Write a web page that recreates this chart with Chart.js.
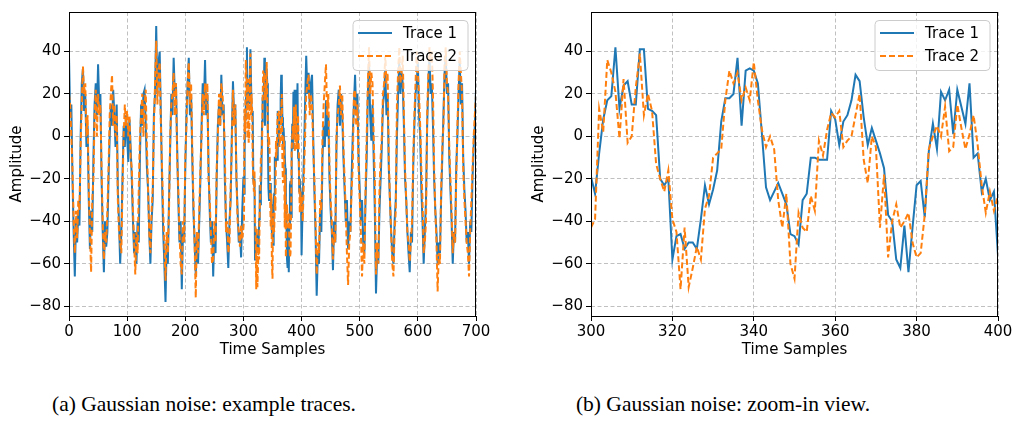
<!DOCTYPE html>
<html>
<head>
<meta charset="utf-8">
<script src="https://cdn.jsdelivr.net/npm/chart.js@4.4.0/dist/chart.umd.min.js"></script>
<style>
  body { margin: 0; background: #fff; width: 1016px; height: 421px; position: relative; overflow: hidden; }
  canvas { position: absolute; top: 0; }
  #left { left: 0; }
  #right { left: 522px; }
  .caption { position: absolute; top: 392px; font-family: "Liberation Serif", serif; font-size: 21.5px; color: #000; white-space: nowrap; transform: translateX(-50%); }
</style>
</head>
<body>
<canvas id="left" width="500" height="365"></canvas>
<canvas id="right" width="494" height="365"></canvas>
<div class="caption" style="left:204px">(a) Gaussian noise: example traces.</div>
<div class="caption" style="left:723px">(b) Gaussian noise: zoom-in view.</div>
<script>
// samples 0..298, every 2nd sample
const coarseStep = 2;
const earlyStart = 0;
const trace1Early = [
  38, 10, 15, -20, -45, -66, -40, -50, -35, -42,
  0, 25, 32, 12, 20, -5, 5, -30, -53, -35,
  -45, -10, 15, 25, 10, 34, 15, 20, -20, -45,
  -64, -40, -52, -45, -20, 0, 15, 5, 22, 10,
  -5, 15, -25, -40, -60, -45, -20, 5, -5, 10,
  0, -12, 8, -5, -20, -40, -55, -45, -60, -40,
  -50, -10, 15, 5, 20, 22, 5, -15, -25, -45,
  -60, -40, -30, 10, 20, 52, 20, 35, 40, 10,
  -20, -45, -60, -78, -50, -60, -30, -5, 20, 10,
  37, 20, 25, -5, -30, -50, -40, -72, -45, -50,
  -15, 10, 25, 37, 10, 20, -10, -35, -50, -65,
  -45, -60, -40, -20, 5, 25, 15, 36, 10, 20,
  -15, -35, -50, -40, -66, -45, -55, -20, 5, 15,
  5, 29, 10, 15, -20, -40, -50, -62, -40, -30,
  0, 26, 10, 15, -20, -35, -50, -45, -57, -35
];
const trace2Early = [
  20, 15, 0, -15, -40, -55, -35, -48, -30, -35,
  -5, 15, 33, 20, 25, 0, 10, -25, -45, -64,
  -30, -20, 10, 22, 0, 20, 10, 15, -15, -40,
  -58, -45, -50, -35, -15, 10, 20, 29, 5, 15,
  0, 10, -30, -45, -50, -55, -25, 0, 15, 5,
  12, 0, 10, -10, -15, -35, -50, -65, -45, -55,
  -25, 0, 10, 20, 0, 15, 22, -5, -25, -45,
  -55, -35, -25, 5, 25, 45, 15, 30, 35, 5,
  -15, -35, -50, -68, -45, -55, -35, 0, 15, 20,
  30, 10, 25, -10, -25, -45, -60, -65, -40, -50,
  -10, 5, 25, 35, 15, 25, -5, -30, -50, -76,
  -45, -55, -35, -15, 0, 20, 10, 25, 15, 25,
  -20, -30, -45, -60, -58, -40, -50, -15, 0, 20,
  5, 25, 20, 10, -5, -45, -40, -55, -50, -25,
  -5, 22, 5, 15, -20, -40, -45, -52, -42, -48
];

// samples 300..400, every sample
const zoomStart = 300;
const trace1Zoom = [
  -19, -27, -8, 8, 17, 19, 42, 13, 24, 26,
  15, 15, 41, 41, 13, 12, 10, -20, -23, -20,
  -58, -47, -46, -53, -50, -50, -53, -39, -23, -32,
  -25, -16, 7, 18, 18, 20, 37, 5, 31, 32,
  31, 25, 1, -24, -30, -26, -22, -27, -32, -46,
  -47, -51, -30, -27, -10, -10, -11, -11, -11, 12,
  8, -4, 7, 10, 17, 29, 26, 9, -4, 4,
  -2, -8, -15, -37, -40, -58, -62, -42, -64, -43,
  -23, -21, -38, -7, 6, -6, 21, 17, 22, 1,
  22, 14, 6, 25, -10, -8, -26, -20, -30, -26,
  -56
];
const trace2Zoom = [
  -43, -39, 13, 2, 36, 30, 21, -1, 27, -3,
  0, 23, 39, 10, 20, 12, -13, -20, -26, -16,
  -39, -45, -72, -43, -71, -62, -52, -58, -34, -28,
  -10, -8, -6, 17, 31, 25, 30, 17, 23, 17,
  35, 17, 3, -5, 0, -6, -30, -43, -27, -60,
  -67, -36, -43, -45, -28, -35, -2, -9, 3, 11,
  9, 12, -5, -2, 0, 10, 20, -11, -22, 0,
  -5, -43, -18, -57, -40, -32, -43, -40, -36, -50,
  -57, -55, -37, -6, 0, 5, 0, 14, -7, -5,
  15, 4, -6, 1, 10, -4, -23, -36, -26, -35,
  -28
];

// samples 402..700, every 2nd sample
const lateStart = 402;
const trace1Late = [
  -30, -10, 15, 38, 20, 30, 15, 25, 29, 0,
  -25, -45, -75, -55, -60, -35, -45, -10, 5, -5,
  17, 0, 10, -20, -35, -45, -63, -40, -50, -5,
  15, 22, 5, 20, 10, -10, -25, -40, -30, -53,
  -40, -45, -20, 0, 15, 29, 10, 20, -10, -25,
  -40, -30, -50, -55, -30, -10, 20, 35, 10, -2,
  15, -10, -35, -74, -55, -60, -35, -20, -5, 15,
  20, 31, 10, 20, -15, -30, -45, -55, -60, -40,
  -30, 0, 20, 35, 20, 30, 25, 5, -20, -30,
  -45, -55, -64, -45, -50, -15, 5, 20, 25, 35,
  10, 0, -25, -40, -60, -45, -30, 5, 25, 38,
  20, 25, 5, -20, -35, -45, -60, -50, -55, -30,
  -10, 10, 30, 38, 20, 25, -10, -25, -40, -60,
  -45, -50, -15, 0, 20, 36, 15, 25, -10, -25,
  -35, -50, -45, -60, -40, -45, -20, -5, 5, 22
];
const trace2Late = [
  -40, -20, 0, 20, 25, 29, 10, 20, 15, -5,
  -20, -40, -65, -50, -55, -30, -35, 0, 15, 25,
  34, 10, 20, -15, -30, -40, -58, -45, -50, 0,
  10, 15, 24, 10, 20, -5, -20, -35, -55, -70,
  -50, -45, -25, -15, 20, 22, 5, 15, -15, -30,
  -45, -66, -50, -60, -25, 0, 25, 42, 20, 30,
  25, 0, -20, -65, -50, -60, -25, -10, 0, 20,
  25, 38, 25, 30, -10, -30, -45, -60, -66, -45,
  -35, 15, 30, 42, 25, 30, 38, 10, -15, -30,
  -45, -50, -59, -50, -40, -10, 10, 25, 40, 30,
  20, 5, -15, -30, -55, -50, -40, 10, 30, 42,
  35, 40, 20, -15, -35, -50, -73, -55, -60, -25,
  -5, 5, 35, 42, 25, 20, -5, -20, -35, -55,
  -45, -50, -20, 5, 25, 40, 30, 20, -15, -30,
  -40, -50, -55, -66, -45, -30, -15, 0, 10, 20
];

const yTicks = [-80, -60, -40, -20, 0, 20, 40];
const leftXTicks = [0, 100, 200, 300, 400, 500, 600, 700];
const rightXTicks = [300, 320, 340, 360, 380, 400];
const seriesNames = ['Trace 1', 'Trace 2'];
const blue = '#1f77b4', orange = '#ff7f0e';

function fullSeries(early, zoom, late) {
  const pts = [];
  early.forEach((v, i) => pts.push({x: earlyStart + i * coarseStep, y: v}));
  zoom.forEach((v, i) => pts.push({x: zoomStart + i, y: v}));
  late.forEach((v, i) => pts.push({x: lateStart + i * coarseStep, y: v}));
  return pts;
}
function zoomSeries(zoom) {
  return zoom.map((v, i) => ({x: zoomStart + i, y: v}));
}

const fontSize = 15;
Chart.defaults.font.family = 'DejaVu Sans';
Chart.defaults.font.size = fontSize;
Chart.defaults.color = '#000';

const frameAndLegend = {
  id: 'frameAndLegend',
  afterDatasetsDraw(chart) {
    const {ctx, chartArea: a} = chart;
    ctx.save();
    // axes frame
    ctx.strokeStyle = '#000';
    ctx.lineWidth = 1;
    ctx.strokeRect(Math.round(a.left) + 0.5, Math.round(a.top) + 0.5,
      Math.round(a.right - a.left) - 1, Math.round(a.bottom - a.top));
    // legend box
    const w = 115, h = 50;
    const x = a.right - 8 - w, y = a.top + 8.5;
    ctx.beginPath();
    ctx.roundRect(x, y, w, h, 4);
    ctx.fillStyle = 'rgba(255,255,255,0.8)';
    ctx.fill();
    ctx.strokeStyle = '#cccccc';
    ctx.stroke();
    const rows = [[blue, []], [orange, [6, 3]]];
    rows.forEach((r, i) => {
      const ly = y + 12.5 + i * 23;
      ctx.beginPath();
      ctx.setLineDash(r[1]);
      ctx.strokeStyle = r[0];
      ctx.lineWidth = 2;
      ctx.moveTo(x + 5, ly);
      ctx.lineTo(x + 39, ly);
      ctx.stroke();
      ctx.setLineDash([]);
      ctx.fillStyle = '#000';
      ctx.font = fontSize + 'px "DejaVu Sans"';
      ctx.textBaseline = 'middle';
      ctx.textAlign = 'left';
      ctx.fillText(seriesNames[i], x + 50, ly + 1);
    });
    ctx.restore();
  }
};

function minusFmt(v) { return String(v).replace('-', '\u2212'); }

function makeChart(id, d1, d2, xMin, xMax, xTicks, rightPad) {
  const gridLines = {color: '#b0b0b0', lineWidth: 0.8, tickLength: 5, tickColor: '#000', tickWidth: 1};
  return new Chart(document.getElementById(id), {
    type: 'line',
    data: {
      datasets: [
        {label: seriesNames[0], data: d1, borderColor: blue, borderWidth: 2, pointRadius: 0, tension: 0, order: 1, clip: 0},
        {label: seriesNames[1], data: d2, borderColor: orange, borderWidth: 2, borderDash: [6, 3], pointRadius: 0, tension: 0, order: 0, clip: 0}
      ]
    },
    options: {
      responsive: false,
      animation: false,
      events: [],
      layout: {autoPadding: false, padding: {top: 5.5, right: rightPad, left: 0, bottom: 0}},
      plugins: {legend: {display: false}, tooltip: {enabled: false}},
      scales: {
        x: {
          type: 'linear', min: xMin, max: xMax,
          afterBuildTicks: s => { s.ticks = xTicks.map(v => ({value: v})); },
          afterFit: s => { s.height = 49; },
          ticks: {padding: 2, maxRotation: 0, callback: minusFmt},
          grid: gridLines,
          border: {display: false, dash: [4, 2.5]},
          title: {display: true, text: 'Time Samples', padding: {top: 0, bottom: 6}}
        },
        y: {
          type: 'linear', min: -84.6, max: 58.6,
          afterBuildTicks: s => { s.ticks = yTicks.map(v => ({value: v})); },
          afterFit: s => { s.width = 69; },
          ticks: {padding: 3, callback: minusFmt},
          grid: gridLines,
          border: {display: false, dash: [4, 2.5]},
          title: {display: true, text: 'Amplitude', padding: {top: 8, bottom: 0}}
        }
      }
    },
    plugins: [frameAndLegend]
  });
}

makeChart('left', fullSeries(trace1Early, trace1Zoom, trace1Late),
  fullSeries(trace2Early, trace2Zoom, trace2Late), 0, 700, leftXTicks, 24);
makeChart('right', zoomSeries(trace1Zoom), zoomSeries(trace2Zoom), 300, 400, rightXTicks, 18);
</script>
</body>
</html>
